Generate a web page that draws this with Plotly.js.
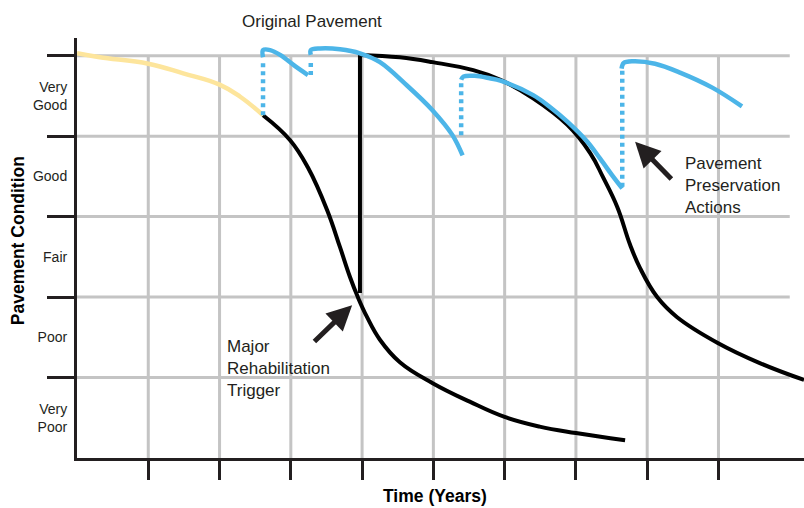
<!DOCTYPE html>
<html>
<head>
<meta charset="utf-8">
<script src="https://cdn.plot.ly/plotly-3.0.1.min.js"></script>
<style>html,body{margin:0;padding:0;background:#fff;}#chart{width:804px;height:508px;}</style>
</head>
<body>
<div id="chart"></div>
<script>
// ---- data ----
const conditionLabels = ['Very<br>Poor', 'Poor', 'Fair', 'Good', 'Very<br>Good'];
const conditionPos = [0.5, 1.5, 2.5, 3.5, 4.5];
const conditionBounds = [1, 2, 3, 4, 5];
const timeTicks = [1, 2, 3, 4, 5, 6, 7, 8, 9];
const timeMax = 10;
const xRange = [0, 10.2];
const yRange = [0, 5.22];

// original pavement (yellow)
const origX = [0, 0.32, 1.0, 1.49, 2.0, 2.29, 2.61];
const origY = [5.03, 4.98, 4.90, 4.78, 4.64, 4.49, 4.26];

// deterioration without preservation (black), first curve
const decayX = [2.61, 2.99, 3.24, 3.51, 3.69, 3.83, 3.94, 4.07, 4.25, 4.53, 4.99, 5.51, 6.00, 6.49, 7.00, 7.69];
const decayY = [4.26, 3.95, 3.61, 3.08, 2.62, 2.25, 2.00, 1.75, 1.47, 1.19, 0.93, 0.70, 0.51, 0.39, 0.31, 0.22];
// major rehabilitation (vertical jump)
const rehabX = [3.97, 3.97];
const rehabY = [2.05, 5.01];
// deterioration after rehabilitation
const decay2X = [3.97, 4.53, 4.99, 5.56, 5.94, 6.40, 6.88, 7.20, 7.38, 7.58, 7.76, 7.90, 8.14, 8.42, 8.99, 9.58, 10.20];
const decay2Y = [5.01, 4.98, 4.92, 4.82, 4.70, 4.47, 4.14, 3.79, 3.49, 3.12, 2.65, 2.36, 2.00, 1.75, 1.43, 1.18, 0.97];

// preservation cycles (blue)
const pres1X = [2.61, 2.61, 2.71, 2.85, 3.06, 3.24];
const pres1Y = [4.98, 5.07, 5.07, 5.01, 4.87, 4.76];
const pres2X = [3.28, 3.28, 3.41, 3.69, 3.97, 4.25, 4.63, 4.99, 5.27, 5.41];
const pres2Y = [5.01, 5.07, 5.09, 5.08, 5.03, 4.92, 4.63, 4.32, 4.01, 3.76];
const pres3X = [5.39, 5.42, 5.58, 5.79, 5.94, 6.40, 6.64, 6.88, 7.16, 7.34, 7.52, 7.65];
const pres3Y = [4.70, 4.74, 4.75, 4.72, 4.69, 4.51, 4.36, 4.18, 3.93, 3.72, 3.50, 3.35];
const pres4X = [7.64, 7.67, 7.80, 8.11, 8.46, 8.92, 9.33];
const pres4Y = [4.84, 4.91, 4.93, 4.90, 4.79, 4.60, 4.37];
// preservation actions (dotted jumps): x, from condition, to condition
const actionX = [2.61, 3.28, 5.39, 7.65];
const actionFrom = [4.26, 4.76, 4.01, 3.37];
const actionTo = [4.95, 4.95, 4.70, 4.84];

// annotation texts
const titleText = 'Original Pavement';
const xTitle = 'Time (Years)';
const yTitle = 'Pavement Condition';
const rehabText = 'Major<br>Rehabilitation<br>Trigger';
const presText = 'Pavement<br>Preservation<br>Actions';

// ---- build ----
function join(segs) {
  const xs = [], ys = [];
  segs.forEach((s, i) => {
    if (i > 0) { xs.push(null); ys.push(null); }
    xs.push(...s[0]); ys.push(...s[1]);
  });
  return [xs, ys];
}
const px = v => (v - xRange[0]) / (xRange[1] - xRange[0]);
const py = v => (v - yRange[0]) / (yRange[1] - yRange[0]);

const BLUE = '#4cb5e8', BLACK = '#000000', YELLOW = '#fde59c', DARK = '#231f20', GRID = '#c4c4c4';
const FONT = 'Liberation Sans, Arial, Helvetica, sans-serif';

const [bkX, bkY] = join([[decayX, decayY], [rehabX, rehabY], [decay2X, decay2Y]]);
const [blX, blY] = join([[pres1X, pres1Y], [pres2X, pres2Y], [pres3X, pres3Y], [pres4X, pres4Y]]);
const dotX = [], dotY = [];
actionX.forEach((x, i) => { if (i) { dotX.push(null); dotY.push(null); } dotX.push(x, x); dotY.push(actionFrom[i], actionTo[i]); });

const traces = [
  {x: bkX, y: bkY, mode: 'lines', line: {color: BLACK, width: 4, shape: 'spline', smoothing: 1.2}},
  {x: origX, y: origY, mode: 'lines', line: {color: YELLOW, width: 4.5, shape: 'spline', smoothing: 1.2}},
  {x: dotX, y: dotY, mode: 'lines', line: {color: BLUE, width: 4.5, dash: '4px,4px'}},
  {x: blX, y: blY, mode: 'lines', line: {color: BLUE, width: 4.5, shape: 'spline', smoothing: 1.0}}
];

const shapes = [];
timeTicks.forEach(v => shapes.push({type: 'line', xref: 'x', yref: 'y', x0: v, x1: v, y0: 0, y1: conditionBounds[conditionBounds.length - 1], layer: 'below', line: {color: GRID, width: 3}}));
conditionBounds.forEach(v => shapes.push({type: 'line', xref: 'x', yref: 'y', x0: 0, x1: timeMax, y0: v, y1: v, layer: 'below', line: {color: GRID, width: 3}}));

const annotations = [
  {text: titleText, x: px(3.30), y: py(5.42), xref: 'paper', yref: 'paper', xanchor: 'center', yanchor: 'middle', showarrow: false, font: {family: FONT, size: 17, color: DARK}},
  {text: '<b>' + xTitle + '</b>', x: px(5.02), y: py(-0.47), xref: 'paper', yref: 'paper', xanchor: 'center', yanchor: 'middle', borderpad: 0, showarrow: false, font: {family: FONT, size: 17.5, color: BLACK}},
  {text: '<b>' + yTitle + '</b>', x: px(-0.835), y: py(2.70), xref: 'paper', yref: 'paper', xanchor: 'center', yanchor: 'middle', showarrow: false, textangle: -90, font: {family: FONT, size: 17.5, color: BLACK}},
  {text: '', x: 3.86, y: 1.90, ax: 3.31, ay: 1.43, xref: 'x', yref: 'y', axref: 'x', ayref: 'y', showarrow: true, arrowhead: 2, arrowwidth: 5, arrowsize: 1, arrowcolor: DARK},
  {text: '', x: 7.83, y: 3.93, ax: 8.36, ay: 3.45, xref: 'x', yref: 'y', axref: 'x', ayref: 'y', showarrow: true, arrowhead: 2, arrowwidth: 5, arrowsize: 1, arrowcolor: DARK},
  {text: rehabText, x: 2.07, y: 1.11, xref: 'x', yref: 'y', xanchor: 'left', yanchor: 'middle', align: 'left', showarrow: false, font: {family: FONT, size: 17, color: DARK}},
  {text: presText, x: 8.50, y: 3.385, xref: 'x', yref: 'y', xanchor: 'left', yanchor: 'middle', align: 'left', showarrow: false, font: {family: FONT, size: 17, color: DARK}}
];

const layout = {
  width: 804, height: 508,
  margin: {l: 77, r: 0, t: 38, b: 50, pad: 0},
  paper_bgcolor: '#ffffff', plot_bgcolor: '#ffffff',
  showlegend: false, hovermode: false,
  font: {family: FONT, color: DARK},
  xaxis: {range: xRange, showgrid: false, zeroline: false, showline: true, linecolor: DARK, linewidth: 3,
          ticks: 'outside', tickmode: 'array', tickvals: timeTicks, ticklen: 19, tickwidth: 3, tickcolor: DARK, showticklabels: false},
  yaxis: {range: yRange, showgrid: false, zeroline: false, showline: true, linecolor: DARK, linewidth: 3,
          tickmode: 'array', tickvals: conditionPos, ticktext: conditionLabels, ticks: '', tickfont: {family: FONT, size: 14, color: DARK},
          ticklabelstandoff: 4,
          minor: {tickmode: 'array', tickvals: conditionBounds, ticks: 'outside', ticklen: 27, tickwidth: 3, tickcolor: DARK, showgrid: false}},
  shapes: shapes,
  annotations: annotations
};
Plotly.newPlot('chart', traces, layout, {displayModeBar: false, staticPlot: true});
</script>
</body>
</html>
